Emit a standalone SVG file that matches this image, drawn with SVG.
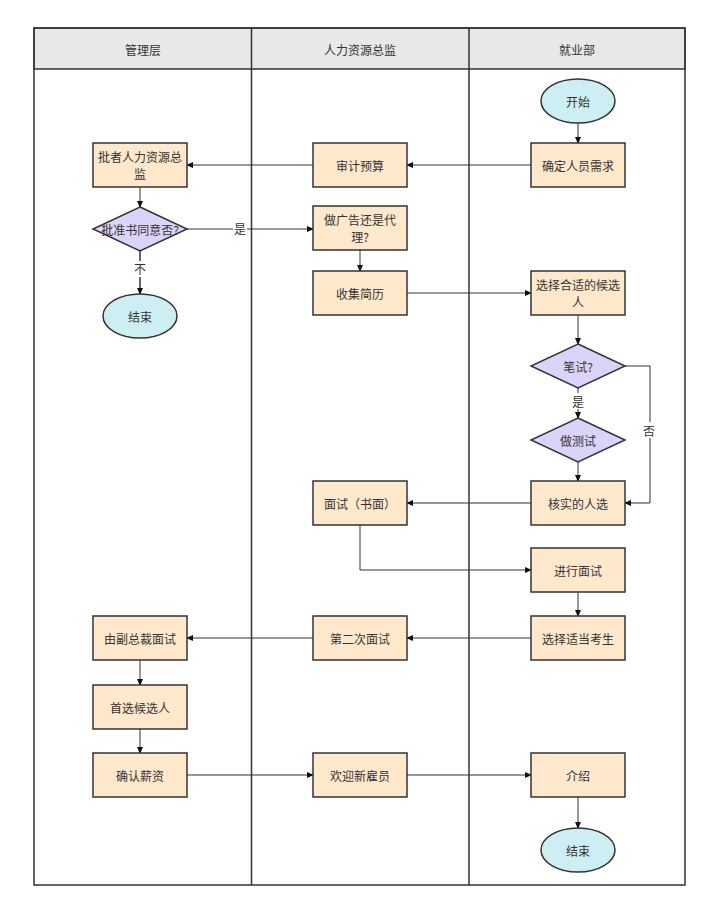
<svg xmlns="http://www.w3.org/2000/svg" width="720" height="911" viewBox="0 0 720 911">
<style>
text{font-family:"Noto Sans CJK SC","Liberation Sans",sans-serif;font-size:12px;fill:#333;text-anchor:middle;dominant-baseline:central}
.box{fill:#ffe8cc;stroke:#333;stroke-width:1.5}
.dia{fill:#dcd4f8;stroke:#333;stroke-width:1.5}
.ell{fill:#cdeef3;stroke:#333;stroke-width:1.5}
.c{fill:none;stroke:#333;stroke-width:1;marker-end:url(#a)}
.lane{fill:none;stroke:#333;stroke-width:1.5}
.hdr{fill:#e8e8e8;stroke:#333;stroke-width:1.5}
.lbl{fill:#fff}
</style>
<defs>
<marker id="a" viewBox="0 0 8 8" refX="7" refY="4" markerWidth="7" markerHeight="7" markerUnits="userSpaceOnUse" orient="auto"><path d="M0,0.5 L8,4 L0,7.5 Z" fill="#111"/></marker>
</defs>
<rect width="720" height="911" fill="#fff"/>
<g id="lanes">
<rect class="hdr" x="34" y="28" width="651" height="41"/>
<rect class="lane" x="34" y="28" width="651" height="857"/>
<line class="lane" x1="251.5" y1="28" x2="251.5" y2="885"/>
<line class="lane" x1="469" y1="28" x2="469" y2="885"/>
<text x="143" y="49">管理层</text>
<text x="360" y="49">人力资源总监</text>
<text x="577" y="49">就业部</text>
</g>
<g id="connectors">
<line class="c" x1="578" y1="123" x2="578" y2="143"/>
<line class="c" x1="531" y1="165" x2="407" y2="165"/>
<line class="c" x1="313" y1="165" x2="187" y2="165"/>
<line class="c" x1="140" y1="187" x2="140" y2="207"/>
<line class="c" x1="187" y1="229" x2="313" y2="229"/>
<line class="c" x1="140" y1="251" x2="140" y2="294" style="stroke-width:1.5"/>
<line class="c" x1="360" y1="250" x2="360" y2="271"/>
<line class="c" x1="407" y1="293" x2="531" y2="293"/>
<line class="c" x1="578" y1="315" x2="578" y2="344"/>
<line class="c" x1="578" y1="388" x2="578" y2="418"/>
<polyline class="c" points="625,366 650,366 650,503 625,503"/>
<line class="c" x1="578" y1="462" x2="578" y2="481"/>
<line class="c" x1="531" y1="503" x2="407" y2="503"/>
<polyline class="c" points="360,525 360,570 531,570"/>
<line class="c" x1="578" y1="592" x2="578" y2="616"/>
<line class="c" x1="531" y1="638" x2="407" y2="638"/>
<line class="c" x1="313" y1="638" x2="187" y2="638"/>
<line class="c" x1="140" y1="660" x2="140" y2="685"/>
<line class="c" x1="140" y1="729" x2="140" y2="753"/>
<line class="c" x1="187" y1="775" x2="313" y2="775"/>
<line class="c" x1="407" y1="775" x2="531" y2="775"/>
<line class="c" x1="578" y1="797" x2="578" y2="828"/>
<rect class="lbl" x="233" y="221" width="14" height="16"/>
<text x="240" y="228">是</text>
<rect class="lbl" x="133" y="261" width="14" height="16"/>
<text x="140" y="268">不</text>
<rect class="lbl" x="571" y="393" width="14" height="16"/>
<text x="578" y="401">是</text>
<rect class="lbl" x="643" y="422" width="14" height="16"/>
<text x="649" y="430">否</text>
</g>
<g id="start"><ellipse class="ell" cx="578" cy="101" rx="37" ry="22"/><text x="578" y="101">开始</text></g>
<g id="need"><rect class="box" x="531" y="143" width="94" height="44"/><text x="578" y="165">确定人员需求</text></g>
<g id="audit"><rect class="box" x="313" y="143" width="94" height="44"/><text x="360" y="165">审计预算</text></g>
<g id="approveHR"><rect class="box" x="93" y="143" width="94" height="44"/><text x="140" y="156.5">批者人力资源总</text><text x="140" y="173.5">监</text></g>
<g id="agree"><polygon class="dia" points="140,207 187,229 140,251 93,229"/><text x="140" y="229">批准书同意否?</text></g>
<g id="end1"><ellipse class="ell" cx="140" cy="316" rx="37" ry="22"/><text x="140" y="316">结束</text></g>
<g id="ad"><rect class="box" x="313" y="206" width="94" height="44"/><text x="360" y="219.5">做广告还是代</text><text x="360" y="236.5">理?</text></g>
<g id="collect"><rect class="box" x="313" y="271" width="94" height="44"/><text x="360" y="293">收集简历</text></g>
<g id="choose"><rect class="box" x="531" y="271" width="94" height="44"/><text x="578" y="284.5">选择合适的候选</text><text x="578" y="301.5">人</text></g>
<g id="written"><polygon class="dia" points="578,344 625,366 578,388 531,366"/><text x="578" y="366">笔试?</text></g>
<g id="test"><polygon class="dia" points="578,418 625,440 578,462 531,440"/><text x="578" y="440">做测试</text></g>
<g id="verify"><rect class="box" x="531" y="481" width="94" height="44"/><text x="578" y="503">核实的人选</text></g>
<g id="interviewW"><rect class="box" x="313" y="481" width="94" height="44"/><text x="360" y="503">面试（书面）</text></g>
<g id="interview"><rect class="box" x="531" y="548" width="94" height="44"/><text x="578" y="570">进行面试</text></g>
<g id="selectC"><rect class="box" x="531" y="616" width="94" height="44"/><text x="578" y="638">选择适当考生</text></g>
<g id="second"><rect class="box" x="313" y="616" width="94" height="44"/><text x="360" y="638">第二次面试</text></g>
<g id="vp"><rect class="box" x="93" y="616" width="94" height="44"/><text x="140" y="638">由副总裁面试</text></g>
<g id="pref"><rect class="box" x="93" y="685" width="94" height="44"/><text x="140" y="707">首选候选人</text></g>
<g id="salary"><rect class="box" x="93" y="753" width="94" height="44"/><text x="140" y="775">确认薪资</text></g>
<g id="welcome"><rect class="box" x="313" y="753" width="94" height="44"/><text x="360" y="775">欢迎新雇员</text></g>
<g id="intro"><rect class="box" x="531" y="753" width="94" height="44"/><text x="578" y="775">介绍</text></g>
<g id="end2"><ellipse class="ell" cx="578" cy="850" rx="37" ry="22"/><text x="578" y="850">结束</text></g>
</svg>
